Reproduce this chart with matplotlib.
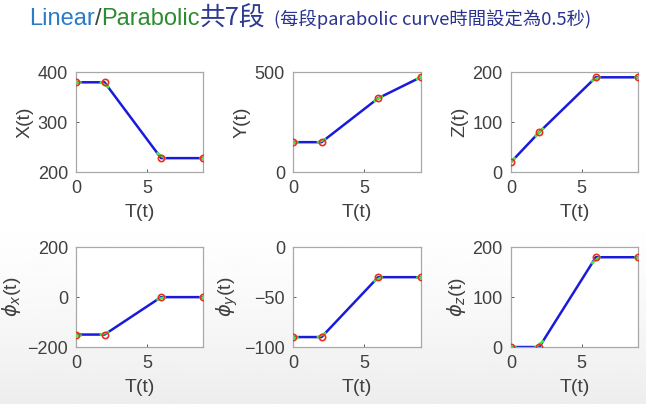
import numpy as np
import matplotlib
matplotlib.use('Agg')
import matplotlib.pyplot as plt

plt.rcParams['font.family'] = ['Liberation Sans', 'Noto Sans CJK TC', 'DejaVu Sans']
plt.rcParams['mathtext.fontset'] = 'dejavusans'

# via points (time) and joint values
t_via = [0, 2, 6, 9]
x_via = [380, 380, 228, 228]
y_via = [150, 150, 370, 475]
z_via = [20, 80, 190, 190]
phix_via = [-150, -150, 0, 0]
phiy_via = [-90, -90, -30, -30]
phiz_via = [0, 0, 180, 180]
blend = 0.5  # parabolic blend time

panels = [
    (x_via, 'X(t)', (200, 400), [200, 300, 400]),
    (y_via, 'Y(t)', (0, 500), [0, 500]),
    (z_via, 'Z(t)', (0, 200), [0, 100, 200]),
    (phix_via, r'$\phi_x$(t)', (-200, 200), [-200, 0, 200]),
    (phiy_via, r'$\phi_y$(t)', (-100, 0), [-100, -50, 0]),
    (phiz_via, r'$\phi_z$(t)', (0, 200), [0, 100, 200]),
]

fig = plt.figure(figsize=(6.46, 4.04), dpi=100)

# faint grey wash at the bottom, like the screenshot
bg = fig.add_axes([0, 0, 1, 1], zorder=-10)
yy = np.linspace(0, 1, 200)
grad = 1 - 0.07 * np.clip((yy - 0.5) / 0.5, 0, 1) ** 1.5
bg.imshow(np.tile(grad[:, None], (1, 10)), cmap='gray', vmin=0, vmax=1,
          aspect='auto', extent=[0, 1, 0, 1], origin='upper')
bg.axis('off')

lefts = [0.118, 0.454, 0.791]
bottoms = [0.574, 0.141]
w, h = 0.197, 0.247
txt = '#404040'

for i, (vals, lab, ylim, yticks) in enumerate(panels):
    ax = fig.add_axes([lefts[i % 3], bottoms[i // 3], w, h])
    ax.plot(t_via, vals, color='#1a1adc', lw=1.8, zorder=2)
    # green blend pieces around each via point
    for tv in t_via:
        tt = np.array([max(tv - blend / 2, 0), min(tv + blend / 2, 9)])
        ax.plot(tt, np.interp(tt, t_via, vals), color='#3cf03c', lw=1.8, zorder=3)
    ax.plot(t_via, vals, 'o', mec='#e83020', mfc='none', ms=4.5, mew=1.2, zorder=4)
    ax.set_xlim(0, 9)
    ax.set_ylim(*ylim)
    ax.set_xticks([0, 5])
    ax.set_yticks(yticks)
    ax.tick_params(labelsize=13, colors=txt, length=2, width=0.6, direction='in',
                   labelcolor=txt)
    ax.tick_params(axis='x', pad=6)
    ax.tick_params(axis='y', pad=6)
    for s in ax.spines.values():
        s.set_color('#a8a8a8')
        s.set_linewidth(0.9)
    ax.set_xlabel('T(t)', fontsize=14, color=txt, labelpad=5)
    ax.set_ylabel(lab, fontsize=14, color=txt, labelpad=3)

# multi-coloured title
r = fig.canvas.get_renderer()
parts = [
    ('Linear', '#2a7cc6', 17, ['Liberation Sans'], 0),
    ('/', '#3a4a3a', 17, ['Liberation Sans'], 0),
    ('Parabolic', '#2e8c30', 17, ['Liberation Sans'], 0),
    ('共7段', '#2c3a90', 18.5, ['Noto Sans CJK TC', 'Liberation Sans'], 0),
    ('(每段parabolic curve時間設定為0.5秒)', '#2a3390', 13.2, ['Noto Sans CJK TC', 'Liberation Sans'], 8),
]
xpos = 29 / 646
for s, c, fs, fam, gap in parts:
    xpos += gap / 646
    t = fig.text(xpos, 1 - 19 / 404, s, color=c, fontsize=fs, family=fam, va='center', ha='left')
    bb = t.get_window_extent(renderer=r)
    xpos += bb.width / 646

fig.savefig('out.png', dpi=100)
